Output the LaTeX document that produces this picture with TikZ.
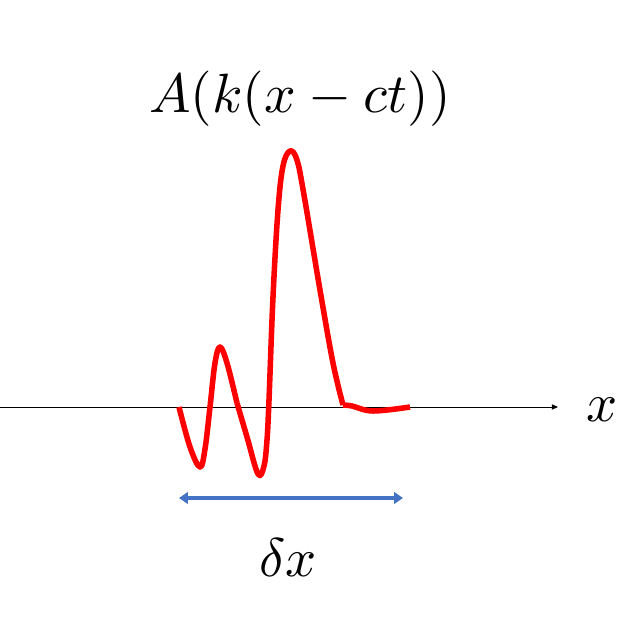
\documentclass[tikz,border=0pt]{standalone}
\usetikzlibrary{arrows.meta}
\definecolor{arrowblue}{HTML}{4472C4}
\begin{document}
\begin{tikzpicture}[x=0.04cm, y=-0.04cm,
  axis/.style={black, line width=0.9pt, -{Triangle[length=7pt,width=6pt]}},
  pulse/.style={red, line width=6.3pt, line join=round, line cap=butt},
  span/.style={arrowblue, line width=4.5pt, {Triangle[length=10pt,width=13pt]}-{Triangle[length=10pt,width=13pt]}},
  lbl/.style={inner sep=0pt, scale=6.2}]
\useasboundingbox (0,0) rectangle (628,628);
% x axis
\coordinate (axstart) at (0,407);
\coordinate (axend) at (558,407);
\draw[axis] (axstart) -- (axend);
\node[lbl] (xlbl) at (602,410) {$x$};
% the wave packet
\draw[pulse] plot[smooth, tension=0.6] coordinates {
  (179,407) (190,447) (200,467) (205,449) (210,407) (215,363) (220,347)
  (227,363) (237,403)};
\draw[pulse] plot[smooth, tension=0.6] coordinates {
  (237,403) (247,437) (258,474) (264,466) (267,440) (269,400) (273,297)
  (278,210) (283,166) (290,151) (297,160) (304,195) (320,290) (333,363) (343,405)};
\draw[pulse] plot[smooth, tension=0.6] coordinates {
  (343,405) (352,406) (373,411) (410,407)};
% label of the packet
\node[lbl, scale=6.3/6.2] (amp) at (300,99) {$A(k(x-ct))$};
% width of the packet
\coordinate (spanl) at (179,498);
\coordinate (spanr) at (403,498);
\draw[span] (spanl) -- (spanr);
\node[lbl] (dxlbl) at (288,558) {$\delta x$};
\end{tikzpicture}
\end{document}
